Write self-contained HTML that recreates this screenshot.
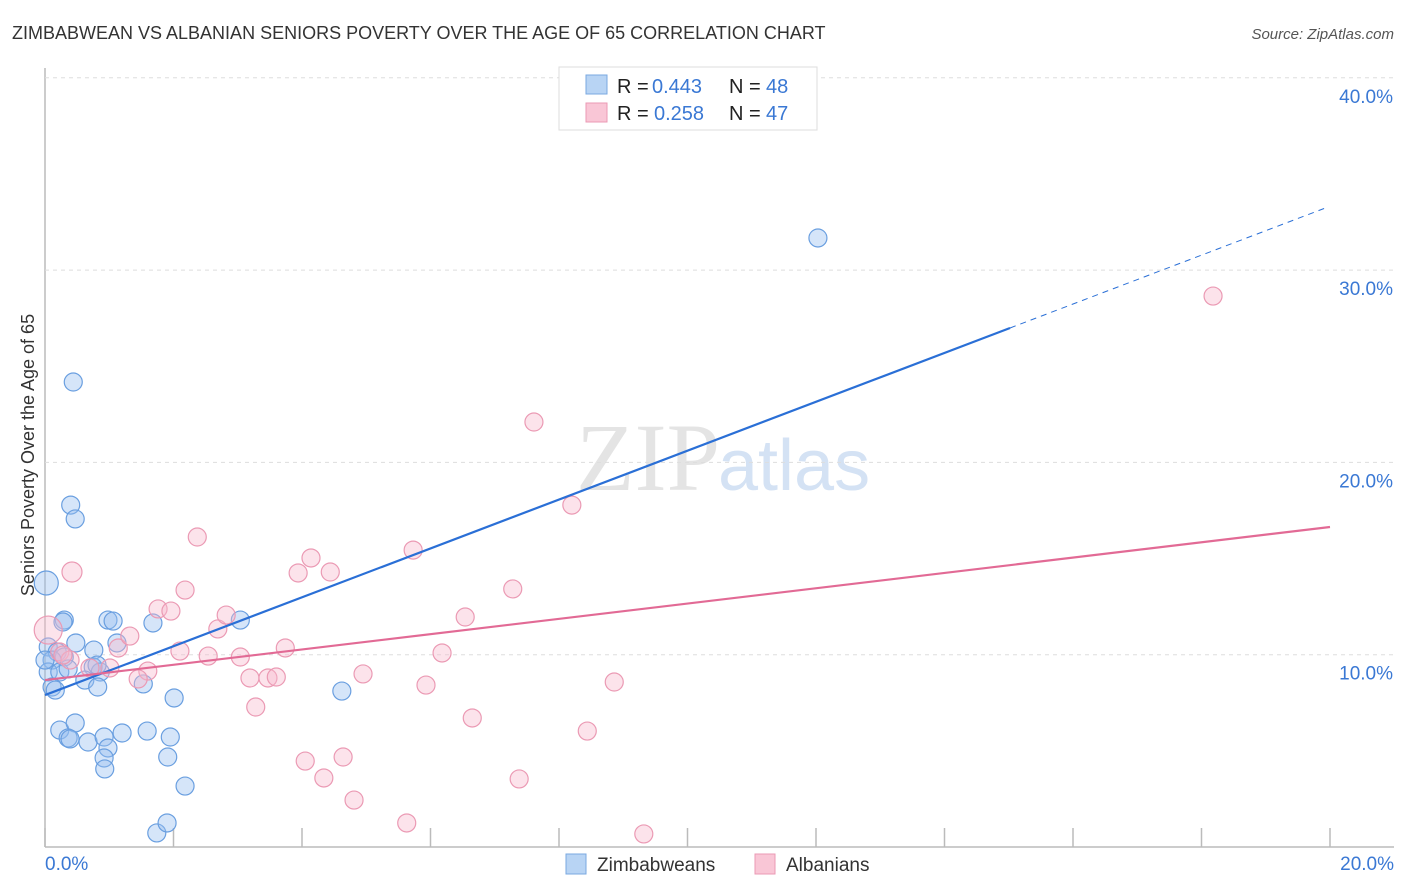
<!DOCTYPE html>
<html><head><meta charset="utf-8"><style>
body{margin:0;background:#fff;font-family:"Liberation Sans",sans-serif;}
svg{display:block}
</style></head><body>
<svg id="c" width="1406" height="892">
<text x="12" y="39" font-size="18" fill="#333">ZIMBABWEAN VS ALBANIAN SENIORS POVERTY OVER THE AGE OF 65 CORRELATION CHART</text>
<text x="1394" y="39" font-size="15" fill="#555" font-style="italic" text-anchor="end">Source: ZipAtlas.com</text>
<text x="720" y="490" font-size="96" fill="#e4e4e4" font-family="Liberation Serif" text-anchor="end">ZIP</text>
<text x="718" y="490" font-size="72" fill="#d4e2f4">atlas</text>
<g id="grid"></g><g id="marks"></g>
<text transform="translate(34,455) rotate(-90)" font-size="18" fill="#333" text-anchor="middle">Seniors Poverty Over the Age of 65</text>
<g>
<rect x="559" y="67" width="258" height="63" fill="#fff" stroke="#ddd"/>
<rect x="586" y="75" width="21" height="19" fill="#b8d4f4" stroke="#7aa8e0"/>
<rect x="586" y="103" width="21" height="19" fill="#f9c6d6" stroke="#eb9ab4"/>
<text x="617" y="93" font-size="20" fill="#222">R =</text>
<text x="652" y="93" font-size="20" fill="#3a78d4">0.443</text>
<text x="729" y="93" font-size="20" fill="#222">N =</text>
<text x="766" y="93" font-size="20" fill="#3a78d4">48</text>
<text x="617" y="120" font-size="20" fill="#222">R =</text>
<text x="654" y="120" font-size="20" fill="#3a78d4">0.258</text>
<text x="729" y="120" font-size="20" fill="#222">N =</text>
<text x="766" y="120" font-size="20" fill="#3a78d4">47</text>
</g>
<g>
<rect x="566" y="854" width="20" height="20" fill="#b8d4f4" stroke="#7aa8e0"/>
<text x="597" y="871" font-size="19" fill="#333">Zimbabweans</text>
<rect x="755" y="854" width="20" height="20" fill="#f9c6d6" stroke="#eb9ab4"/>
<text x="786" y="871" font-size="19" fill="#333">Albanians</text>
</g>
</svg>
<script>
const yTicks=[10,20,30,40];
const yTickLabels=["10.0%","20.0%","30.0%","40.0%"];
const xTicks=[0,2,4,6,8,10,12,14,16,18,20];
const blueX=[0.44,0.40,0.47,0.02,0.30,0.28,0.98,1.06,1.68,3.04,0.05,0.19,0.30,0.11,0.05,0.23,0.36,0.76,0.48,1.12,0.75,0.86,0.62,0.82,0.11,1.53,2.01,4.62,0.23,0.47,0.36,0.39,0.67,0.92,1.20,1.59,1.95,0.98,0.92,1.91,0.93,2.18,1.74,1.90,12.03,0.16,0.81,0.0];
const blueY=[24.18,17.78,17.06,13.73,11.80,11.70,11.80,11.75,11.65,11.80,10.40,10.14,9.88,9.72,9.10,9.10,9.26,10.24,10.61,10.61,9.36,9.10,8.68,8.32,8.32,8.48,7.75,8.11,6.08,6.45,5.67,5.62,5.46,5.72,5.93,6.03,5.72,5.15,4.63,4.68,4.06,3.17,0.73,1.25,31.67,8.16,9.46,9.72];
const pinkX=[0.42,2.37,0.05,0.23,0.39,0.28,0.70,1.01,1.14,1.60,1.45,1.32,1.76,1.96,2.18,2.10,2.54,2.69,2.82,3.04,3.19,3.28,3.47,3.60,3.74,3.94,4.14,4.44,4.05,4.34,4.64,4.81,4.95,5.63,5.73,5.93,6.18,6.54,6.65,7.28,7.38,7.61,8.20,8.44,8.86,9.32,18.18];
const pinkY=[14.30,16.12,11.28,10.14,9.72,9.98,9.31,9.31,10.35,9.15,8.74,10.97,12.38,12.27,13.36,10.19,9.93,11.34,12.06,9.88,8.79,7.28,8.79,8.84,10.35,14.25,15.03,14.30,4.47,3.59,4.68,2.44,9.00,1.25,15.44,8.42,10.09,11.96,6.71,13.42,3.54,22.10,17.78,6.03,8.58,0.68,28.65];
const blueTrend=[7.90,1.271];
const pinkTrend=[8.68,0.398];
const X=v=>45+v*64.25, Y=v=>847-v*19.23;
const NS='http://www.w3.org/2000/svg';
const grid=document.getElementById('grid'), marks=document.getElementById('marks');
function mk(tag,a,p){const e=document.createElementNS(NS,tag);for(const k in a)e.setAttribute(k,a[k]);(p||marks).appendChild(e);return e;}
let ax=mk('line',{x1:45,y1:68,x2:45,y2:847,stroke:'#bbb','stroke-width':1.5},grid);


let bx=mk('line',{x1:45,y1:847,x2:1394,y2:847,stroke:'#bbb','stroke-width':1.5},grid);


yTicks.forEach((t,i)=>{
 let g=mk('line',{x1:45,x2:1394,y1:Y(t),y2:Y(t),stroke:'#ddd','stroke-dasharray':'4,4'},grid);
 
 
 let l=mk('text',{x:1393,y:Y(t)+25,'font-size':19,fill:'#3a78d4','text-anchor':'end'},grid);
 l.textContent=yTickLabels[i];
 
 
});
xTicks.forEach(t=>{
 let k=mk('line',{x1:X(t),x2:X(t),y1:828,y2:847,stroke:'#bbb','stroke-width':1.5},grid);
 
 
});
let x0=mk('text',{x:45,y:870,'font-size':19,fill:'#3a78d4'},grid);x0.textContent='0.0%';


let x1=mk('text',{x:1394,y:870,'font-size':19,fill:'#3a78d4','text-anchor':'end'},grid);x1.textContent='20.0%';


function R(i,isPink){if(isPink&&i===2)return 14;if(isPink&&i===0)return 10;if(!isPink&&i===3)return 12;return 9;}
blueX.forEach((v,i)=>{let c=mk('circle',{cx:X(v),cy:Y(blueY[i]),r:R(i,false),fill:'rgba(150,190,240,0.4)',stroke:'#6a9fe0','stroke-width':1.2});
 
 });
pinkX.forEach((v,i)=>{let c=mk('circle',{cx:X(v),cy:Y(pinkY[i]),r:R(i,true),fill:'rgba(248,185,205,0.4)',stroke:'#eb9ab4','stroke-width':1.2});
 
 });
let bl=mk('line',{x1:X(0),y1:Y(blueTrend[0]),x2:X(15.02),y2:Y(blueTrend[0]+blueTrend[1]*15.02),stroke:'#2a6fd6','stroke-width':2.2});


let bd=mk('line',{x1:X(15.02),y1:Y(blueTrend[0]+blueTrend[1]*15.02),x2:X(19.92),y2:Y(blueTrend[0]+blueTrend[1]*19.92),stroke:'#2a6fd6','stroke-width':1,'stroke-dasharray':'6,5'});


let pl=mk('line',{x1:X(0),y1:Y(pinkTrend[0]),x2:X(20),y2:Y(pinkTrend[0]+pinkTrend[1]*20),stroke:'#e26a95','stroke-width':2.2});


</script>
</body></html>
